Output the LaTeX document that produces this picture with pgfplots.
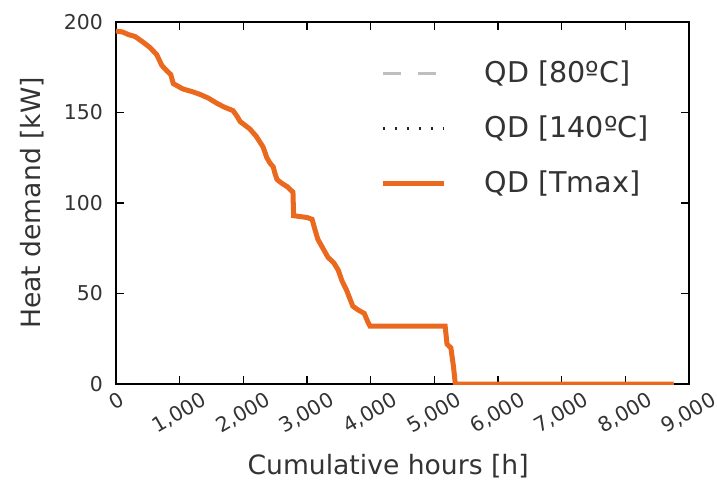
\documentclass[border=0pt]{standalone}
\usepackage{fontspec}
\setmainfont{DejaVu Sans}
\usepackage{graphicx}
\usepackage{pgfplots}
\pgfplotsset{compat=1.18}
\definecolor{qorange}{RGB}{235,105,30}
\pgfplotstableread{
x y
0 195
100 194.5
200 193
300 192
420 189
530 186
640 182
720 176
800 173
860 171
900 166
1050 163
1200 161.5
1320 160
1450 158
1590 155
1700 153
1840 151
1900 148
1950 145
2100 141
2200 137
2310 131
2370 125
2420 122
2470 120
2500 116
2530 113
2600 111
2690 109
2780 106
2790 93
3000 92
3080 91
3120 86
3170 80
3250 75
3330 70
3420 67
3490 63
3550 57
3620 52
3720 43
3800 41
3900 39
3960 34
3990 32
5170 32
5200 22
5260 20
5300 10
5330 0
8760 0
}\qd
\begin{document}
\begin{tikzpicture}
\begin{axis}[
  scale only axis, width=286.5pt, height=181pt,
  xmin=0, xmax=9000, ymin=0, ymax=200,
  xtick={0,1000,2000,3000,4000,5000,6000,7000,8000,9000},
  ytick={0,50,100,150,200},
  /pgf/number format/assume math mode=true,
  /pgf/number format/1000 sep={,},
  xticklabel={\rotatebox{30}{\pgfmathprintnumber{\tick}}},
  tick label style={font=\fontsize{10.2}{12}\selectfont, text=black!80},
  label style={font=\fontsize{13.3}{16}\selectfont, text=black!80},
  xticklabel style={anchor=north},
  yticklabel style={xshift=-3pt},
  major tick length=4pt,
  tick style={black, line width=0.8pt},
  axis line style={line width=1pt},
  xlabel={Cumulative hours [h]}, ylabel={Heat demand [kW]},
  xlabel style={at={(axis description cs:0.475,-0.2265)}, anchor=center},
  ylabel style={at={(axis description cs:-0.147,0.5)}, anchor=center},
  legend style={draw=none, fill=none, at={(axis description cs:0.450,0.915)}, anchor=north west,
    font=\fontsize{14.3}{17}\selectfont, text=black!80, row sep=11pt},
  legend cell align=left,
  legend image code/.code={\draw[#1] (0pt,0pt) -- (30.5pt,0pt); \path[draw=none] (0pt,0pt) -- (49pt,0pt);},
]
\addplot[gray!50, line width=1.5pt, dash pattern=on 9pt off 8.5pt] table[x=x,y=y] {\qd};
\addlegendentry{QD [80ºC]}
\addplot[black!85, line width=1.4pt, dash pattern=on 1.2pt off 4.8pt] table[x=x,y=y] {\qd};
\addlegendentry{QD [140ºC]}
\addplot[qorange, line width=2.5pt] table[x=x,y=y] {\qd};
\addlegendentry{QD [Tmax]}
\coordinate (bbl) at (rel axis cs:-0.2024,-0.290);
\coordinate (btr) at (rel axis cs:1.0489,1.0608);
\end{axis}
\pgfresetboundingbox
\path[use as bounding box] (bbl) rectangle (btr);
\end{tikzpicture}
\end{document}
